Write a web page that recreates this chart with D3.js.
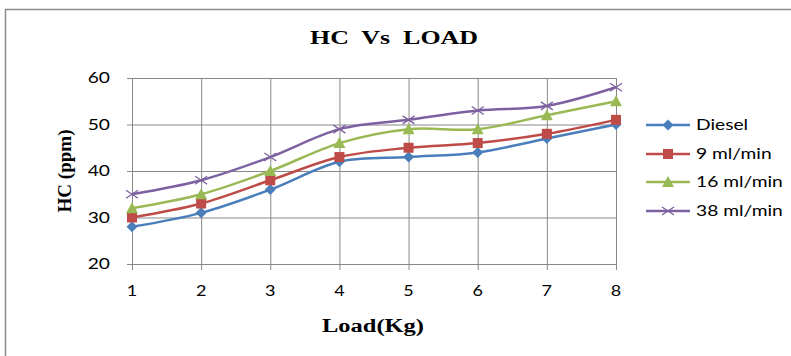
<!DOCTYPE html>
<html><head><meta charset="utf-8">
<script src="https://cdn.jsdelivr.net/npm/d3@7"></script>
<style>body{margin:0;background:#fff}svg{display:block}</style>
</head><body>
<svg id="c" width="791" height="356"></svg>
<script>
const loads = [1,2,3,4,5,6,7,8];
const yTicks = [20,30,40,50,60];
const seriesNames = ["Diesel","9 ml/min","16 ml/min","38 ml/min"];
const diesel = [28,31,36,42,43,44,47,50];
const ml9 = [30,33,38,43,45,46,48,51];
const ml16 = [32,35,40,46,49,49,52,55];
const ml38 = [35,38,43,49,51,53,54,58];
const colors = ["#4A7EBB","#BE4B48","#98B954","#7D60A0"];
const symbols = ["diamond","square","triangle","x"];

const svg = d3.select("#c");
svg.append("path").attr("d","M5.5,356 L5.5,9.5 L791,9.5").attr("fill","none").attr("stroke","#8a8a8a").attr("stroke-width",1.5);

const x = d3.scalePoint().domain(loads).range([132,616]);
const y = d3.scaleLinear().domain([20,60]).range([264,78]);

function stretch(sel, f){
  sel.each(function(){
    const w = this.getComputedTextLength();
    d3.select(this).attr("textLength", w*f).attr("lengthAdjust","spacingAndGlyphs");
  });
}

const grid = "#888";
svg.append("g").selectAll("line").data(yTicks).join("line")
  .attr("x1",127).attr("x2",616).attr("y1",d=>y(d)+0.5).attr("y2",d=>y(d)+0.5)
  .attr("stroke",grid).attr("stroke-width",1);
svg.append("g").selectAll("line").data(loads).join("line")
  .attr("x1",d=>x(d)+0.5).attr("x2",d=>x(d)+0.5).attr("y1",78).attr("y2",270)
  .attr("stroke",grid).attr("stroke-width",1);

const tickFont = "Lato, 'Open Sans', sans-serif";
const serif = "'Liberation Serif','Times New Roman',serif";
svg.append("g").selectAll("text").data(yTicks).join("text")
  .attr("x",110).attr("y",d=>y(d)+5).attr("text-anchor","end")
  .attr("font-family",tickFont).attr("font-size",15).attr("fill","#000").text(d=>d)
  .call(stretch,1.28);
svg.append("g").selectAll("text").data(loads).join("text")
  .attr("x",d=>x(d)).attr("y",296).attr("text-anchor","middle")
  .attr("font-family",tickFont).attr("font-size",15).attr("fill","#000").text(d=>d)
  .call(stretch,1.2);

svg.append("text").attr("x",394).attr("y",44).attr("text-anchor","middle")
  .attr("font-family",serif).attr("font-weight","bold")
  .attr("font-size",18).style("white-space","pre").text("HC  Vs  LOAD")
  .attr("textLength",168).attr("lengthAdjust","spacingAndGlyphs");
svg.append("text").attr("x",373).attr("y",332).attr("text-anchor","middle")
  .attr("font-family",serif).attr("font-weight","bold")
  .attr("font-size",18).text("Load(Kg)")
  .attr("textLength",102).attr("lengthAdjust","spacingAndGlyphs");
svg.append("text").attr("transform","translate(71,171) rotate(-90)").attr("text-anchor","middle")
  .attr("font-family",serif).attr("font-weight","bold")
  .attr("font-size",19).text("HC (ppm)")
  .attr("textLength",83).attr("lengthAdjust","spacingAndGlyphs");

const data = [diesel,ml9,ml16,ml38];
const line = d3.line().x((d,i)=>x(loads[i])).y(d=>y(d)).curve(d3.curveCatmullRom.alpha(0));

function drawMarker(g, type, color, cx, cy){
  if(type==="diamond"){
    g.append("path").attr("d",`M${cx},${cy-5.5}L${cx+5.5},${cy}L${cx},${cy+5.5}L${cx-5.5},${cy}Z`).attr("fill",color);
  } else if(type==="square"){
    g.append("rect").attr("x",cx-5).attr("y",cy-5).attr("width",10).attr("height",10).attr("fill",color);
  } else if(type==="triangle"){
    g.append("path").attr("d",`M${cx},${cy-6}L${cx+6},${cy+5}L${cx-6},${cy+5}Z`).attr("fill",color);
  } else {
    g.append("path").attr("d",`M${cx-6},${cy-4}L${cx+6},${cy+4}M${cx-6},${cy+4}L${cx+6},${cy-4}`)
      .attr("stroke",color).attr("stroke-width",1.3).attr("fill","none");
  }
}

data.forEach((vals,k)=>{
  const g = svg.append("g");
  g.append("path").attr("d",line(vals)).attr("fill","none").attr("stroke",colors[k]).attr("stroke-width",2.5);
  vals.forEach((v,i)=>drawMarker(g,symbols[k],colors[k],x(loads[i]),y(v)));
});

const legY = [125,154,182,211];
seriesNames.forEach((n,k)=>{
  const g = svg.append("g");
  g.append("line").attr("x1",646).attr("x2",690).attr("y1",legY[k]).attr("y2",legY[k])
    .attr("stroke",colors[k]).attr("stroke-width",2.5);
  drawMarker(g,symbols[k],colors[k],668,legY[k]);
  g.append("text").attr("x",696).attr("y",legY[k]+5).attr("font-family",tickFont)
    .attr("font-size",15).attr("fill","#000").text(n).call(stretch,1.28);
});
</script>
</body></html>
